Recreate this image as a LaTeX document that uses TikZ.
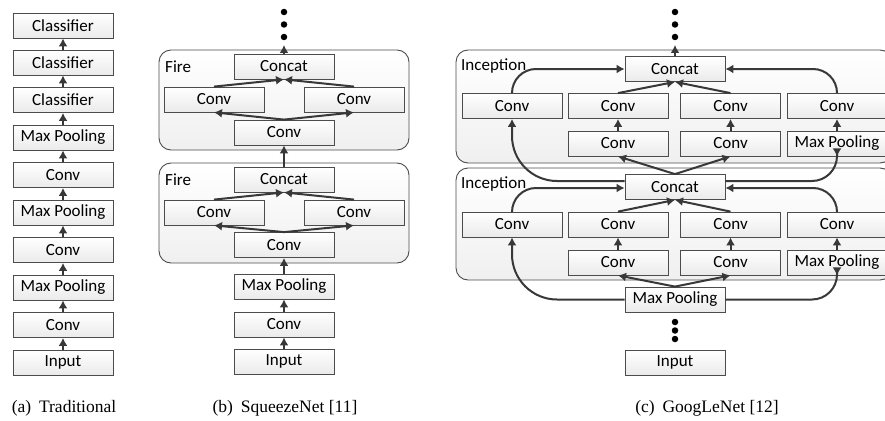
\documentclass[tikz,border=0pt]{standalone}
\usepackage{fontspec}
\setmainfont{Liberation Serif}
\newfontfamily\boxfont{Carlito}
\usetikzlibrary{arrows.meta,shadows,calc}
\begin{document}
\begin{tikzpicture}[x=1pt,y=-1pt,
 blk/.style={draw=black!70, line width=0.8pt, top color=white, bottom color=black!8,
   minimum width=100pt, minimum height=25pt, inner sep=0pt,
   font=\boxfont\fontsize{17}{20}\selectfont,
   drop shadow={shadow xshift=0.9pt,shadow yshift=-0.9pt,fill=black!35,opacity=1}},
 grp/.style={draw=black!70, line width=0.9pt, rounded corners=12pt, top color=white, bottom color=black!6, inner sep=0pt},
 arr/.style={draw=black!78, line width=2pt, -{Latex[length=8pt,width=9pt]}},
 lbl/.style={font=\boxfont\fontsize{17}{20}\selectfont, anchor=west, inner sep=0pt},
 captxt/.style={font=\fontsize{17.5}{20}\selectfont, inner sep=0pt},
 bdot/.style={circle, fill=black, inner sep=0pt, minimum size=6.5pt}
]
\useasboundingbox (0,0) rectangle (885,420);
\clip (0,0) rectangle (885,420);

% ---------------- (a) Traditional ----------------
\node[blk] (t10) at (63,25.5) {Classifier};
\node[blk] (t9) at (63,62.5) {Classifier};
\node[blk] (t8) at (63,100) {Classifier};
\node[blk] (t7) at (63,137.5) {Max Pooling};
\node[blk] (t6) at (63,175) {Conv};
\node[blk] (t5) at (63,212.5) {Max Pooling};
\node[blk] (t4) at (63,250) {Conv};
\node[blk] (t3) at (63,287.5) {Max Pooling};
\node[blk] (t2) at (63,325) {Conv};
\node[blk] (t1) at (63,362.5) {Input};
\foreach \a/\b in {t1/t2,t2/t3,t3/t4,t4/t5,t5/t6,t6/t7,t7/t8,t8/t9,t9/t10}
  \draw[arr] (\a.north) -- (\b.south);
\node[captxt] (capa) at (64,408) {(a)\hspace{0.45em}Traditional};

% ---------------- (b) SqueezeNet ----------------
\node[grp, minimum width=250pt, minimum height=100pt] (fire1) at (284,100) {};
\node[grp, minimum width=250pt, minimum height=100pt] (fire2) at (284,213) {};
\node[lbl] (fl1) at (165,67) {Fire};
\node[lbl] (fl2) at (165,180) {Fire};

\node[blk] (sc1) at (284,66.5) {Concat};
\node[blk] (sl1) at (214,99.5) {Conv};
\node[blk] (sr1) at (354,99.5) {Conv};
\node[blk] (sb1) at (284,132.5) {Conv};

\node[blk] (sc2) at (284,179.5) {Concat};
\node[blk] (sl2) at (214,212.5) {Conv};
\node[blk] (sr2) at (354,212.5) {Conv};
\node[blk] (sb2) at (284,245) {Conv};

\node[blk] (smp) at (284,286.5) {Max Pooling};
\node[blk] (sconv) at (284,324.5) {Conv};
\node[blk] (sin) at (284,361.5) {Input};

\node[bdot] (sd1) at (284,12) {};
\node[bdot] (sd2) at (284,24.5) {};
\node[bdot] (sd3) at (284,37) {};
\coordinate (stop) at (284,45);

\draw[arr] (sin.north) -- (sconv.south);
\draw[arr] (sconv.north) -- (smp.south);
\draw[arr] (smp.north) -- (sb2.south);
\draw[arr] (sc2.north) -- (sb1.south);
\draw[arr] (sc1.north) -- (stop);
\foreach \i in {1,2}{
  \draw[arr] (sb\i.north) -- (sl\i.south);
  \draw[arr] (sb\i.north) -- (sr\i.south);
  \draw[arr] (sl\i.north) -- (sc\i.south);
  \draw[arr] (sr\i.north) -- (sc\i.south);
}
\node[captxt] (capb) at (285,408) {(b)\hspace{0.45em}SqueezeNet [11]};

% ---------------- (c) GoogLeNet ----------------
\node[grp, minimum width=436pt, minimum height=113pt] (inc1) at (674,106.5) {};
\node[grp, minimum width=436pt, minimum height=112pt] (inc2) at (674,224) {};
\node[lbl] (il1) at (461,66) {Inception};
\node[lbl] (il2) at (461,184) {Inception};

\node[blk] (c1) at (675,69) {Concat};
\node[blk] (a1) at (512,106) {Conv};
\node[blk] (b1) at (618,106) {Conv};
\node[blk] (d1) at (730.5,106) {Conv};
\node[blk] (e1) at (837,106) {Conv};
\node[blk] (b1l) at (618,143.5) {Conv};
\node[blk] (d1l) at (730.5,143.5) {Conv};
\node[blk] (e1l) at (837,143.5) {Max Pooling};

\node[blk] (c2) at (675,187) {Concat};
\node[blk] (a2) at (512,224.5) {Conv};
\node[blk] (b2) at (618,224.5) {Conv};
\node[blk] (d2) at (730.5,224.5) {Conv};
\node[blk] (e2) at (837,224.5) {Conv};
\node[blk] (b2l) at (618,262.5) {Conv};
\node[blk] (d2l) at (730.5,262.5) {Conv};
\node[blk] (e2l) at (837,262.5) {Max Pooling};

\node[blk] (gmp) at (675,299.5) {Max Pooling};
\node[blk] (gin) at (675,362.5) {Input};

\node[bdot] (gd1) at (675,12) {};
\node[bdot] (gd2) at (675,24.5) {};
\node[bdot] (gd3) at (675,37) {};
\node[bdot] (gd4) at (675,322) {};
\node[bdot] (gd5) at (675,330.5) {};
\node[bdot] (gd6) at (675,339) {};
\coordinate (gtop) at (675,45);

% inception 1
\draw[arr] (c1.north) -- (gtop);
\draw[arr, rounded corners=24pt] (a1.north) |- (c1.west);
\draw[arr, rounded corners=24pt] (e1.north) |- (c1.east);
\draw[arr] (b1.north) -- (c1.south);
\draw[arr] (d1.north) -- (c1.south);
\draw[arr] (b1l.north) -- (b1.south);
\draw[arr] (d1l.north) -- (d1.south);
\draw[arr] (e1l.north) -- (e1.south);
\draw[arr] (c2.north) -- (b1l.south);
\draw[arr] (c2.north) -- (d1l.south);
\draw[arr, rounded corners=45pt] ($(c2.west)+(0,-6)$) -| (a1.south);
\draw[arr, rounded corners=25pt] ($(c2.east)+(0,-6)$) -| (e1l.south);

% inception 2
\draw[arr, rounded corners=24pt] (a2.north) |- ($(c2.west)+(0,1)$);
\draw[arr, rounded corners=24pt] (e2.north) |- ($(c2.east)+(0,1)$);
\draw[arr] (b2.north) -- (c2.south);
\draw[arr] (d2.north) -- (c2.south);
\draw[arr] (b2l.north) -- (b2.south);
\draw[arr] (d2l.north) -- (d2.south);
\draw[arr] (e2l.north) -- (e2.south);
\draw[arr] (gmp.north) -- (b2l.south);
\draw[arr] (gmp.north) -- (d2l.south);
\draw[arr, rounded corners=45pt] (gmp.west) -| (a2.south);
\draw[arr, rounded corners=25pt] (gmp.east) -| (e2l.south);

\node[captxt] (capc) at (707,408) {(c)\hspace{0.45em}GoogLeNet [12]};
\end{tikzpicture}
\end{document}
